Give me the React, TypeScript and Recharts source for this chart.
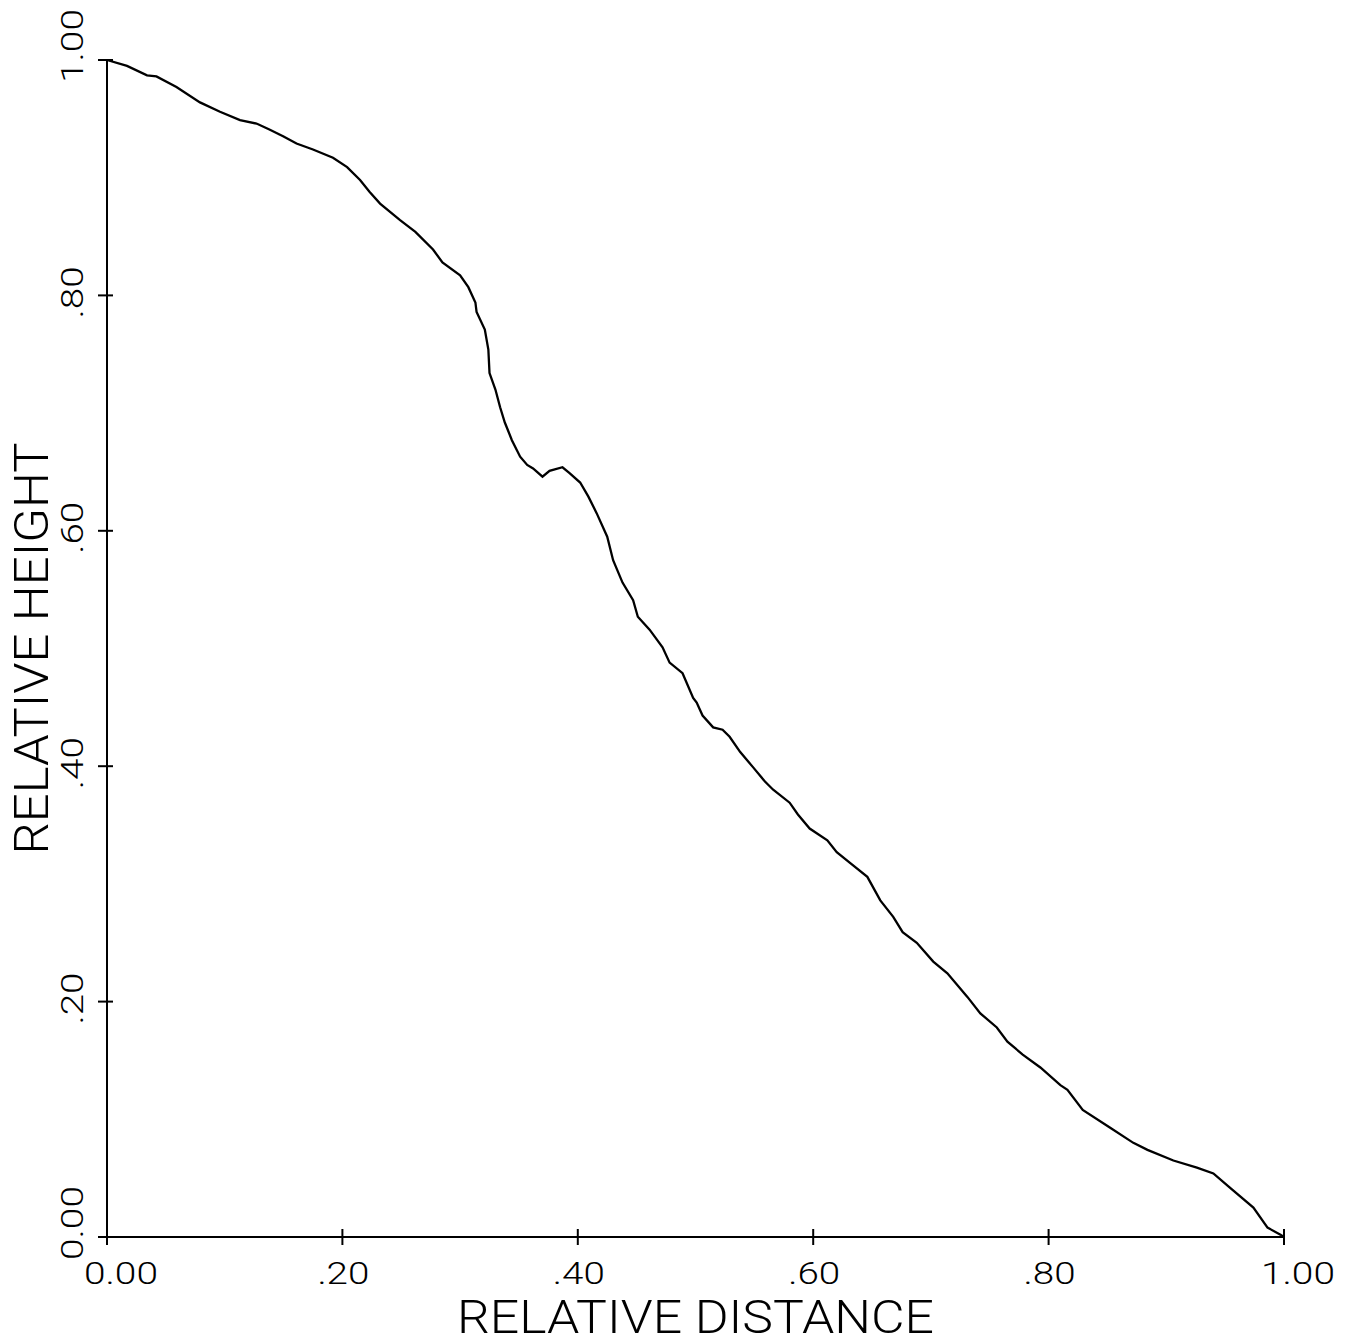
import { LineChart, Line, XAxis, YAxis } from "recharts";

// relative distance (x) and relative height (y)
const relDistance = [
  0, 0.017, 0.034, 0.042, 0.059, 0.079, 0.096, 0.113, 0.127, 0.138, 0.15, 0.161,
  0.175, 0.192, 0.204, 0.215, 0.223, 0.232, 0.249, 0.262, 0.277, 0.285, 0.3,
  0.307, 0.313, 0.314, 0.321, 0.324, 0.325, 0.33, 0.334, 0.338, 0.344, 0.351,
  0.357, 0.362, 0.37, 0.376, 0.387, 0.393, 0.402, 0.409, 0.416, 0.425, 0.43,
  0.438, 0.447, 0.451, 0.461, 0.472, 0.478, 0.489, 0.498, 0.501, 0.506, 0.515,
  0.523, 0.529, 0.538, 0.549, 0.559, 0.566, 0.58, 0.587, 0.597, 0.612, 0.62,
  0.631, 0.646, 0.657, 0.668, 0.676, 0.688, 0.702, 0.714, 0.731, 0.742, 0.756,
  0.765, 0.778, 0.793, 0.81, 0.816, 0.829, 0.852, 0.872, 0.884, 0.906, 0.926,
  0.94, 0.954, 0.974, 0.986, 0.997, 1.0,
];
const relHeight = [
  1.0, 0.995, 0.987, 0.986, 0.977, 0.964, 0.956, 0.949, 0.946, 0.941, 0.935,
  0.929, 0.924, 0.917, 0.909, 0.898, 0.888, 0.878, 0.864, 0.854, 0.839, 0.828,
  0.817, 0.807, 0.794, 0.786, 0.771, 0.754, 0.734, 0.72, 0.705, 0.692, 0.677,
  0.663, 0.656, 0.653, 0.646, 0.651, 0.654, 0.649, 0.641, 0.629, 0.615, 0.595,
  0.575, 0.556, 0.541, 0.527, 0.516, 0.501, 0.488, 0.479, 0.458, 0.454, 0.443,
  0.433, 0.431, 0.425, 0.412, 0.399, 0.387, 0.38, 0.369, 0.359, 0.347, 0.337,
  0.327, 0.318, 0.306, 0.286, 0.272, 0.259, 0.25, 0.234, 0.224, 0.204, 0.19,
  0.178, 0.166, 0.155, 0.144, 0.129, 0.125, 0.108, 0.093, 0.08, 0.074, 0.065,
  0.059, 0.054, 0.042, 0.025, 0.008, 0.002, 0,
];

const axisTicks = [0, 0.2, 0.4, 0.6, 0.8, 1];
const tickLabels = ["0.00", ".20", ".40", ".60", ".80", "1.00"];

const data = relDistance.map((x, i) => ({ x, y: relHeight[i] }));

const FONT = "Roboto, 'DejaVu Sans', sans-serif";

function labelFor(v: number) {
  const i = axisTicks.findIndex((t) => Math.abs(t - v) < 1e-6);
  return tickLabels[i] ?? "";
}

function XTick({ x, y, payload }: any) {
  const text = labelFor(payload.value);
  const long = text.length > 3;
  return (
    <g>
      <line x1={x} x2={x} y1={y - 8} y2={y + 8} stroke="#000" strokeWidth={2} />
      <text
        x={x + (long ? 14 : 1)}
        y={y + 47}
        textAnchor="middle"
        fontFamily={FONT}
        fontWeight={300}
        fontSize={31}
        textLength={long ? 74 : 52}
        lengthAdjust="spacingAndGlyphs"
        fill="#000"
      >
        {text}
      </text>
    </g>
  );
}

function YTick({ x, y, payload }: any) {
  const text = labelFor(payload.value);
  const long = text.length > 3;
  const cy = y + (long ? -14 : -3);
  return (
    <g>
      <line x1={x - 9} x2={x + 6} y1={y} y2={y} stroke="#000" strokeWidth={2} />
      <text
        transform={`translate(${x - 24},${cy}) rotate(-90)`}
        textAnchor="middle"
        fontFamily={FONT}
        fontWeight={300}
        fontSize={32}
        textLength={long ? 74 : 52}
        lengthAdjust="spacingAndGlyphs"
        fill="#000"
      >
        {text}
      </text>
    </g>
  );
}

function XTitle({ viewBox }: any) {
  const cx = viewBox.x + viewBox.width / 2;
  return (
    <text
      x={cx}
      y={viewBox.y + 96}
      textAnchor="middle"
      fontFamily={FONT}
      fontWeight={300}
      fontSize={47}
      textLength={477}
      lengthAdjust="spacingAndGlyphs"
      fill="#000"
    >
      RELATIVE DISTANCE
    </text>
  );
}

function YTitle({ viewBox }: any) {
  const cy = viewBox.y + viewBox.height / 2;
  return (
    <text
      transform={`translate(48,${cy}) rotate(-90)`}
      textAnchor="middle"
      fontFamily={FONT}
      fontWeight={300}
      fontSize={48}
      textLength={412}
      lengthAdjust="spacingAndGlyphs"
      fill="#000"
    >
      RELATIVE HEIGHT
    </text>
  );
}

export default function App() {
  return (
    <div
      style={{
        position: "absolute",
        left: 0,
        top: 0,
        width: 1355,
        height: 1344,
        background: "#fff",
      }}
    >
      <LineChart
        width={1355}
        height={1344}
        data={data}
        margin={{ top: 60, right: 71, left: 0, bottom: 0 }}
      >
        <XAxis
          type="number"
          dataKey="x"
          domain={[0, 1]}
          ticks={axisTicks}
          interval={0}
          height={107}
          tickSize={0}
          tickMargin={0}
          tickLine={false}
          axisLine={{ stroke: "#000", strokeWidth: 2 }}
          tick={(p: any) => <XTick {...p} />}
          label={<XTitle />}
        />
        <YAxis
          type="number"
          dataKey="y"
          domain={[0, 1]}
          ticks={axisTicks}
          interval={0}
          width={107}
          tickSize={0}
          tickMargin={0}
          tickLine={false}
          axisLine={{ stroke: "#000", strokeWidth: 2 }}
          tick={(p: any) => <YTick {...p} />}
          label={<YTitle />}
        />
        <Line
          type="linear"
          dataKey="y"
          stroke="#000"
          strokeWidth={2.3}
          dot={false}
          activeDot={false}
          isAnimationActive={false}
        />
      </LineChart>
    </div>
  );
}
